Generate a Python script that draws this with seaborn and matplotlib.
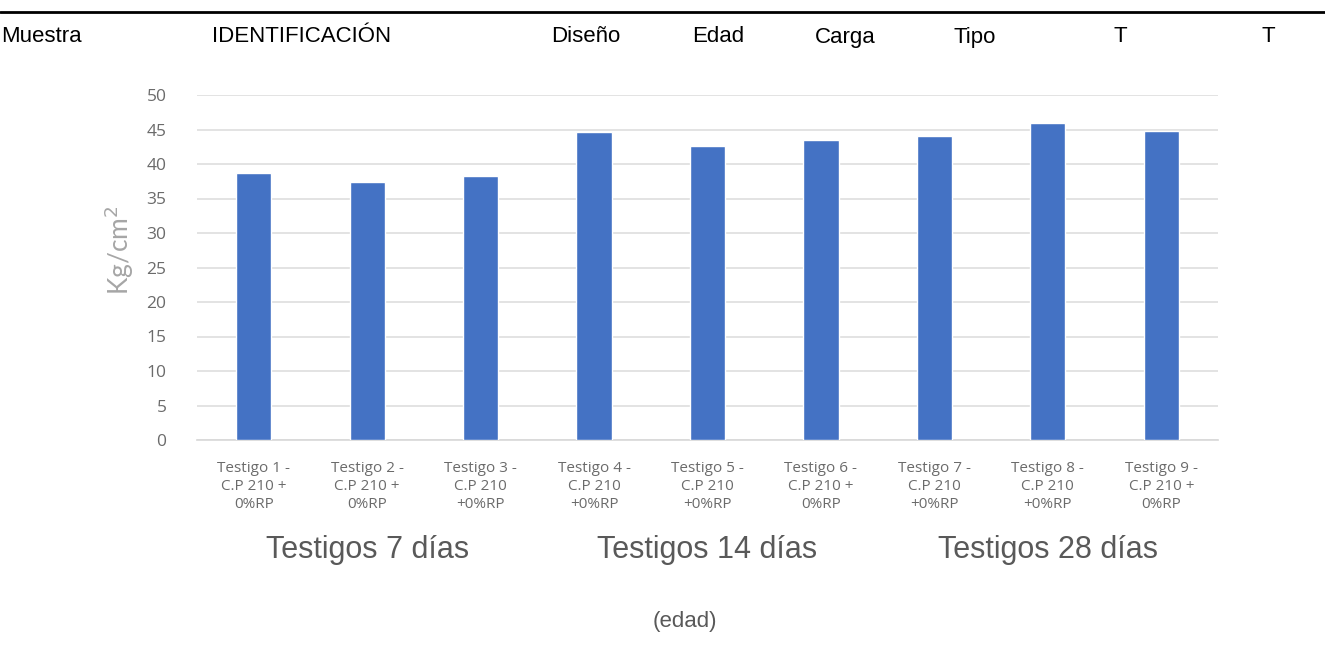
import pandas as pd
import matplotlib.pyplot as plt
import seaborn as sns
from matplotlib.lines import Line2D

# data
testigos = ["Testigo 1 -\nC.P 210 +\n0%RP", "Testigo 2 -\nC.P 210 +\n0%RP", "Testigo 3 -\nC.P 210\n+0%RP",
            "Testigo 4 -\nC.P 210\n+0%RP", "Testigo 5 -\nC.P 210\n+0%RP", "Testigo 6 -\nC.P 210 +\n0%RP",
            "Testigo 7 -\nC.P 210\n+0%RP", "Testigo 8 -\nC.P 210\n+0%RP", "Testigo 9 -\nC.P 210 +\n0%RP"]
resistencia = [38.7, 37.4, 38.3, 44.7, 42.6, 43.5, 44.0, 45.9, 44.8]
grupos = ["Testigos 7 días", "Testigos 14 días", "Testigos 28 días"]
encabezados = ["Muestra", "IDENTIFICACIÓN", "Diseño", "Edad", "Carga", "Tipo", "T", "T"]
encabezado_x = [1, 212, 551, 692, 815, 954, 1113, 1262]

df = pd.DataFrame({"testigo": testigos, "kg": resistencia})

sns.set_theme(style="white")
plt.rcParams["font.family"] = ["Liberation Sans", "DejaVu Sans"]

W, H = 1325, 659
fig = plt.figure(figsize=(W / 100, H / 100), dpi=100)
ax = fig.add_axes([197 / W, 1 - 440 / H, (1218 - 197) / W, (440 - 95) / H])

sns.barplot(data=df, x="testigo", y="kg", color="#4472C4", width=0.31, saturation=1, ax=ax, zorder=3)

ax.set_ylim(0, 50)
ax.set_yticks(range(0, 51, 5))
ax.yaxis.grid(True, color="#dedede", lw=1.2, zorder=0)
ax.set_axisbelow(True)
for s in ["top", "right", "left"]:
    ax.spines[s].set_visible(False)
ax.spines["bottom"].set_color("#d9d9d9")
ax.tick_params(axis="both", length=0, colors="#6b6b6b")
ax.tick_params(axis="y", labelsize=12.5, pad=22)
ax.tick_params(axis="x", labelsize=11, pad=15)
for lbl in ax.get_xticklabels():
    lbl.set_family("Open Sans")
    lbl.set_linespacing(1.3)
for lbl in ax.get_yticklabels():
    lbl.set_family("Open Sans")
ax.set_xlabel("")
ax.set_ylabel("Kg/cm$^2$", color="#a6a6a6", fontsize=19, family="Lato")
ax.yaxis.set_label_coords(-0.06, 0.55)

# group labels under each block of three
for i, g in enumerate(grupos):
    ax.text(3 * i + 1, -0.32, g, transform=ax.get_xaxis_transform(), ha="center", va="center",
            fontsize=22, color="#595959")
fig.text(685 / W, 1 - 622 / H, "(edad)", ha="center", va="center", fontsize=16, color="#595959")

# table header above the chart
fig.add_artist(Line2D([0, 1], [1 - 12 / H, 1 - 12 / H], color="black", lw=2))
for t, x in zip(encabezados, encabezado_x):
    fig.text(x / W, 1 - 37 / H, t, ha="left", va="center", fontsize=16, color="black")

plt.savefig("out.png", dpi=100)
